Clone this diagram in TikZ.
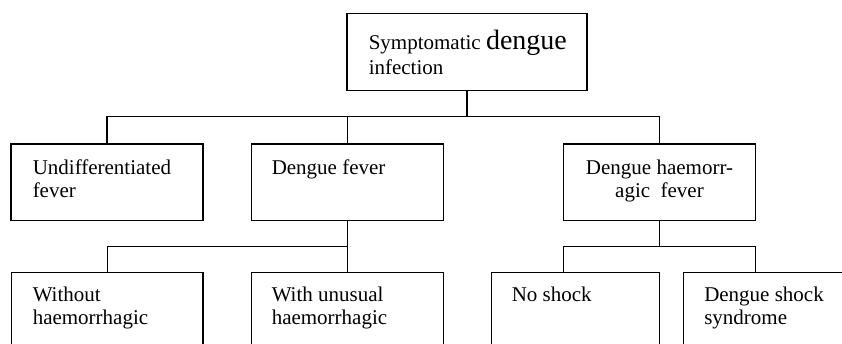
\documentclass[tikz,border=0pt]{standalone}
\usepackage{fontspec}
\setmainfont{Liberation Serif}
\begin{document}
\begin{tikzpicture}[x=1pt,y=-1pt, line width=1.5pt,
  box/.style={draw, rectangle, inner sep=0pt, outer sep=0pt, anchor=north west},
  lbl/.style={inner sep=0pt, anchor=base west, font=\fontsize{21}{23}\selectfont},
  clbl/.style={lbl, anchor=base}]
\clip (0,0) rectangle (842,344);
\fill[white] (0,0) rectangle (842,344);
% boxes
\node[box, minimum width=240pt, minimum height=77pt] (top) at (347,13.5) {};
\node[box, minimum width=192pt, minimum height=76.5pt] (ud) at (11,144) {};
\node[box, minimum width=192.3pt, minimum height=76.5pt] (df) at (251.3,144) {};
\node[box, minimum width=192.2pt, minimum height=76.5pt] (dhf) at (563.4,144) {};
\node[box, minimum width=191.5pt, minimum height=100pt] (wo) at (11.5,272.3) {};
\node[box, minimum width=192.3pt, minimum height=100pt] (wu) at (251.3,272.3) {};
\node[box, minimum width=168.1pt, minimum height=100pt] (ns) at (491.4,272.3) {};
\node[box, minimum width=192pt, minimum height=100pt] (dss) at (683.3,272.3) {};
% texts
\node[lbl] (ttop) at (368,50) {\parbox[t]{215pt}{\raggedright Symptomatic {\fontsize{28}{30}\selectfont dengue}\\[2pt]infection}};
\node[lbl] (tud) at (32,174.3) {\parbox[t]{170pt}{\raggedright Undifferentiated\\fever}};
\node[lbl] (tdf) at (271,174.3) {\parbox[t]{170pt}{\raggedright Dengue fever}};
\node[clbl] (tdhf) at (659.5,175) {\parbox[t]{185pt}{\centering Dengue haemorr-\\agic~ fever}};
\node[lbl] (two) at (32,301) {\parbox[t]{170pt}{\raggedright Without\\haemorrhagic}};
\node[lbl] (twu) at (271,301) {\parbox[t]{170pt}{\raggedright With unusual\\haemorrhagic}};
\node[lbl] (tns) at (511,301) {\parbox[t]{145pt}{\raggedright No shock}};
\node[lbl] (tdss) at (703.5,301) {\parbox[t]{170pt}{\raggedright Dengue shock\\syndrome}};
% connectors
\path (top.south) ++(0,26.2) coordinate (b1);
\path (df.south) ++(0,26.2) coordinate (b2);
\draw (top.south) -- (b1);
\draw (ud.north) |- (b1) -| (dhf.north);
\draw (df.north) -- (df.north |- b1);
\draw (df.south) -- (wu.north);
\draw (wo.north) |- (b2);
\draw (dhf.south) -- (dhf.south |- b2);
\draw (dhf.south west |- ns.north) |- (dhf.south |- b2) -| (dhf.south east |- dss.north);
\end{tikzpicture}
\end{document}
